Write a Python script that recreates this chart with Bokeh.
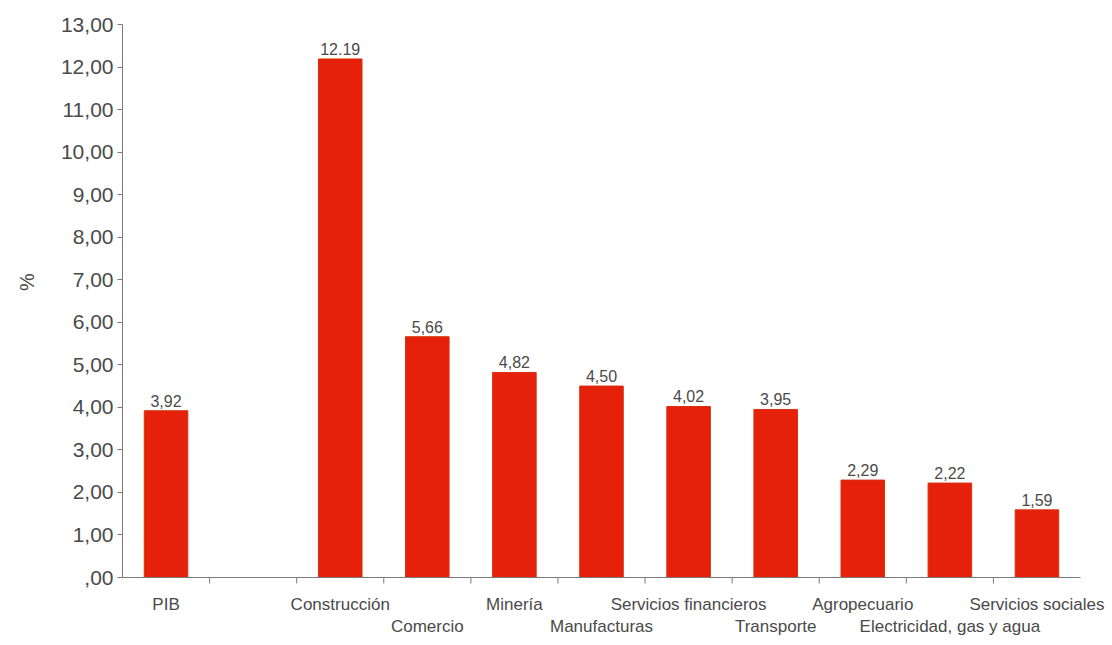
from bokeh.plotting import figure
from bokeh.models import Range1d, FixedTicker, LabelSet, ColumnDataSource
from bokeh.core.properties import value
from bokeh.embed import file_html
from bokeh.resources import INLINE

categories = ["PIB", "Construcción", "Comercio", "Minería", "Manufacturas",
              "Servicios financieros", "Transporte", "Agropecuario",
              "Electricidad, gas y agua", "Servicios sociales"]
values = [3.92, 12.19, 5.66, 4.82, 4.50, 4.02, 3.95, 2.29, 2.22, 1.59]
value_labels = ["3,92", "12.19", "5,66", "4,82", "4,50", "4,02", "3,95", "2,29", "2,22", "1,59"]
y_ticks = list(range(0, 14))
y_tick_labels = [",00"] + [f"{t},00" for t in range(1, 14)]

FONT = "Liberation Sans"
TXT = "#4a4a4a"
AX = "#7a7a7a"

# slot 1 is an empty gap after PIB
slots = [0] + [i + 1 for i in range(1, len(categories))]
n_slots = len(categories) + 1
y_top = 13

W, H = 1112, 645
LEFT, TOP, BOTTOM, RIGHT = 122, 24, 0, 0
px_per_unit = 553 / y_top
px_per_slot = 958 / n_slots
y_bottom = y_top - (H - TOP - BOTTOM) / px_per_unit      # room below zero for labels
x_right = -0.5 + (W - LEFT - RIGHT) / px_per_slot        # room right for last label

src = ColumnDataSource(dict(
    x=slots,
    top=values,
    lab=value_labels,
    ly=[v + 4 / px_per_unit for v in values],
))
cat_src = ColumnDataSource(dict(
    x=slots,
    cat=categories,
    cy=[-0.64 if s % 2 == 0 else -1.15 for s in slots],
))
bounds = [s + 0.5 for s in range(n_slots - 1)]
tick_src = ColumnDataSource(dict(x=bounds, y0=[0] * len(bounds),
                                 y1=[-6 / px_per_unit] * len(bounds)))

p = figure(width=W, height=H, output_backend="svg", toolbar_location=None,
           x_range=Range1d(-0.5, x_right), y_range=Range1d(y_bottom, y_top),
           min_border_left=LEFT, min_border_right=RIGHT, min_border_top=TOP,
           min_border_bottom=BOTTOM)
p.outline_line_color = None
p.grid.visible = False
p.xaxis.visible = False
p.background_fill_color = "white"
p.border_fill_color = "white"

p.vbar(x="x", top="top", width=0.5, bottom=0, source=src,
       fill_color="#e5200b", line_color="#d8300f", line_width=1)

p.add_layout(LabelSet(x="x", y="ly", text="lab", source=src,
                      text_align="center", text_baseline="bottom",
                      text_font=value(FONT), text_font_size="16px", text_color=TXT))

# x axis line and boundary ticks
p.segment(x0=[-0.5], y0=[0], x1=[n_slots - 0.5], y1=[0], line_color=AX, line_width=1)
p.segment(x0="x", y0="y0", x1="x", y1="y1", source=tick_src, line_color=AX, line_width=1)

# staggered category labels
p.text(x="x", y="cy", text="cat", source=cat_src, text_align="center",
       text_baseline="middle", text_font=value(FONT), text_font_size="17px",
       text_color=TXT)

# y axis
p.yaxis.bounds = (0, y_top)
p.yaxis.ticker = FixedTicker(ticks=y_ticks)
p.yaxis.major_label_overrides = {t: l for t, l in zip(y_ticks, y_tick_labels)}
p.yaxis.major_label_text_font = FONT
p.yaxis.major_label_text_font_size = "21px"
p.yaxis.major_label_text_color = TXT
p.yaxis.major_label_standoff = 4
p.yaxis.major_tick_out = 5
p.yaxis.major_tick_in = 0
p.yaxis.minor_tick_line_color = None
p.yaxis.axis_line_color = AX
p.yaxis.major_tick_line_color = AX
p.yaxis.axis_label = "\u00a0" * 19 + "%"
p.yaxis.axis_label_text_font = FONT
p.yaxis.axis_label_text_font_style = "normal"
p.yaxis.axis_label_text_font_size = "20px"
p.yaxis.axis_label_text_color = TXT
p.yaxis.axis_label_standoff = 20

open("out.html", "w").write(file_html(p, INLINE))
